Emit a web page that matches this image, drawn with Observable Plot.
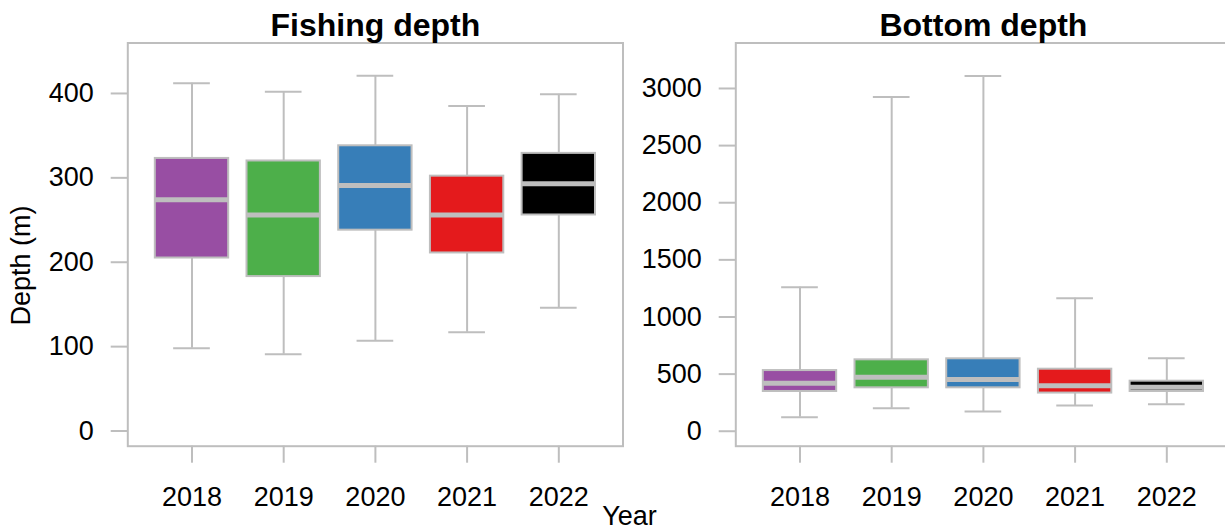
<!DOCTYPE html>
<html><head><meta charset="utf-8">
<script src="https://cdn.jsdelivr.net/npm/d3@7"></script>
<script src="https://cdn.jsdelivr.net/npm/@observablehq/plot@0.6"></script>
<style>
html,body{margin:0;padding:0;background:#fff;width:1225px;height:529px;overflow:hidden;position:relative;}
#left,#right{position:absolute;top:0;width:640px;height:529px;}
#left{left:0px;} #right{left:607.7px;}
#left svg,#right svg{max-width:none !important;width:640px !important;height:529px !important;}
</style></head><body>
<div id="left"></div><div id="right"></div>
<script>
// categories
const years = [2018, 2019, 2020, 2021, 2022];
const colors = ["#984EA3", "#4DAF4A", "#377EB8", "#E41A1C", "#000000"];

// Fishing depth (m): lower whisker, Q1, median, Q3, upper whisker
const fishLo  = [98, 91, 107, 117, 146];
const fishQ1  = [205, 183, 238, 211, 256];
const fishMed = [274, 256, 291, 256, 293];
const fishQ3  = [323, 320, 338, 302, 329];
const fishHi  = [412, 402, 421, 385, 399];
const fishTicks = [0, 100, 200, 300, 400];

// Bottom depth (m)
const botLo  = [123, 201, 172, 225, 236];
const botQ1  = [348, 380, 380, 334, 348];
const botMed = [420, 473, 453, 397, 386];
const botQ3  = [531, 625, 634, 543, 438];
const botHi  = [1261, 2926, 3110, 1164, 639];
const botTicks = [0, 500, 1000, 1500, 2000, 2500, 3000];

const GREY = "#bebebe";
const FONT = "'Liberation Sans', Arial, Helvetica, sans-serif";

function panel(title, lo, q1, med, q3, hi, yDomain, yTicks, extra) {
  const data = years.map((y, i) => ({year: y, color: colors[i], lo: lo[i], q1: q1[i], med: med[i], q3: q3[i], hi: hi[i]}));
  return Plot.plot({
    width: 640, height: 529,
    marginLeft: 127.3, marginRight: 17.5, marginTop: 42.5, marginBottom: 83.3,
    style: {fontFamily: FONT, background: "transparent", overflow: "visible", color: "black", maxWidth: "none"},
    x: {type: "linear", domain: [2017.3, 2022.7]},
    y: {domain: yDomain},
    color: {type: "identity"},
    marks: [
      Plot.ruleX(data, {x: "year", y1: "lo", y2: "hi", stroke: GREY, strokeWidth: 2}),
      Plot.ruleY(data, {y: "hi", x1: d => d.year - 0.2, x2: d => d.year + 0.2, stroke: GREY, strokeWidth: 2}),
      Plot.ruleY(data, {y: "lo", x1: d => d.year - 0.2, x2: d => d.year + 0.2, stroke: GREY, strokeWidth: 2}),
      Plot.rect(data, {x1: d => d.year - 0.4, x2: d => d.year + 0.4, y1: "q1", y2: "q3", fill: "color", stroke: GREY, strokeWidth: 2}),
      Plot.ruleY(data, {y: "med", x1: d => d.year - 0.4, x2: d => d.year + 0.4, stroke: GREY, strokeWidth: 5}),
      Plot.frame({stroke: GREY, strokeWidth: 2}),
      Plot.axisY({ticks: yTicks, tickSize: 16.6, tickPadding: 17.4, stroke: GREY, strokeWidth: 2, fill: "black", fontSize: 27, label: null, tickFormat: d => String(d)}),
      Plot.axisX({ticks: years, tickSize: 17, tickPadding: 24, stroke: GREY, strokeWidth: 2, fill: "black", fontSize: 27, label: null, tickFormat: d => String(d)}),
      Plot.text([title], {frameAnchor: "top", dy: -7.5, lineAnchor: "bottom", textAnchor: "middle", fontSize: 32, fontWeight: "bold", fill: "black"}),
      ...extra
    ]
  });
}

document.getElementById("left").append(panel("Fishing depth", fishLo, fishQ1, fishMed, fishQ3, fishHi, [-18, 459.8], fishTicks, [
  Plot.text(["Depth (m)"], {frameAnchor: "left", dx: -98, dy: 21, rotate: -90, lineAnchor: "bottom", textAnchor: "middle", fontSize: 27, fill: "black"}),
  Plot.text(["Year"], {frameAnchor: "bottom-left", dx: 501.7, dy: 78.5, lineAnchor: "bottom", textAnchor: "middle", fontSize: 27, fill: "black"})
]));
document.getElementById("right").append(panel("Bottom depth", botLo, botQ1, botMed, botQ3, botHi, [-131, 3398], botTicks, []));
</script>
</body></html>
